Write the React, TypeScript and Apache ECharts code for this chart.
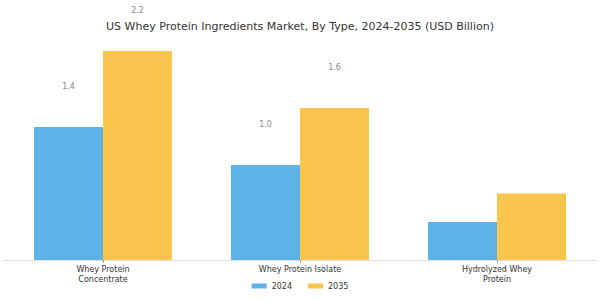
import React, { useEffect, useRef } from "react";
import * as echarts from "echarts";

const categories = ["Whey Protein\nConcentrate", "Whey Protein Isolate", "Hydrolyzed Whey\nProtein"];
const values2024 = [1.4, 1.0, 0.4];
const values2035 = [2.2, 1.6, 0.7];
const showLabel = [true, true, false];

export default function App() {
  const ref = useRef<HTMLDivElement>(null);
  useEffect(() => {
    if (!ref.current) return;
    const chart = echarts.init(ref.current, null, { renderer: "svg" });
    const font = "DejaVu Sans, sans-serif";
    const mk = (vals: number[]) =>
      vals.map((v, i) => ({ value: v, label: { show: showLabel[i] } }));
    const labelCfg = {
      show: true,
      position: "top" as const,
      distance: 37,
      color: "#888",
      fontSize: 8,
      fontFamily: font,
      formatter: (p: any) => p.value.toFixed(1),
    };
    chart.setOption({
      animation: false,
      title: {
        text: "US Whey Protein Ingredients Market, By Type, 2024-2035 (USD Billion)",
        left: "center",
        top: 16,
        textStyle: { fontSize: 11, fontWeight: "normal", color: "#333", fontFamily: font },
      },
      legend: {
        bottom: 5,
        left: "center",
        itemWidth: 15,
        itemHeight: 5,
        itemGap: 16,
        icon: "rect",
        textStyle: { fontSize: 8, color: "#333", fontFamily: font },
        data: ["2024", "2035"],
      },
      grid: { left: 4.5, right: 4.5, top: 22.5, bottom: 40 },
      xAxis: {
        type: "category",
        data: categories,
        axisLine: { lineStyle: { color: "#ddd" } },
        axisTick: { show: true, alignWithLabel: true, length: 3, lineStyle: { color: "#999" } },
        axisLabel: { fontSize: 8, color: "#333", fontFamily: font, lineHeight: 9.5, margin: 5, interval: 0 },
      },
      yAxis: { type: "value", min: 0, max: 2.5, show: false, splitLine: { show: false } },
      series: [
        {
          name: "2024",
          type: "bar",
          data: mk(values2024),
          itemStyle: { color: "#5DB3E7" },
          barWidth: 69,
          barGap: "0%",
          label: labelCfg,
        },
        {
          name: "2035",
          type: "bar",
          data: mk(values2035),
          itemStyle: { color: "#F9C54C" },
          barWidth: 69,
          barGap: "0%",
          label: labelCfg,
        },
      ],
    });
    return () => chart.dispose();
  }, []);
  return <div ref={ref} style={{ width: 600, height: 300, position: "absolute", left: 0, top: 0 }} />;
}
